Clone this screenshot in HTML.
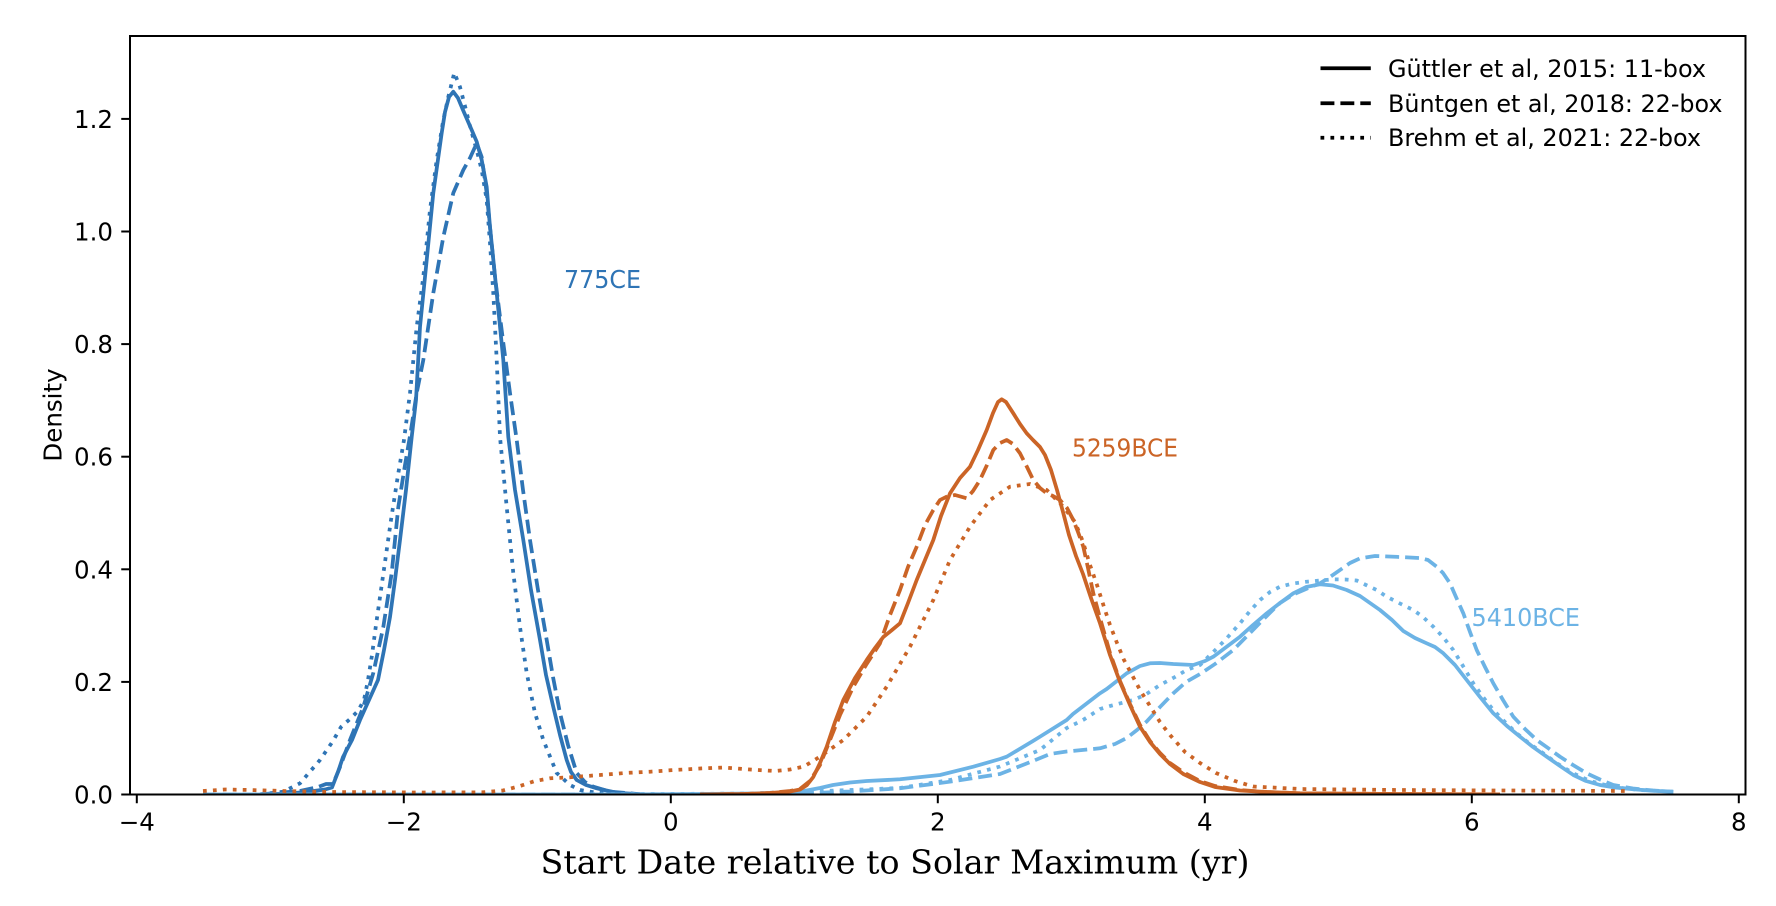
<!DOCTYPE html>
<html>
<head>
<meta charset="utf-8">
<style>
  html,body{margin:0;padding:0;background:#fff;}
  svg{display:block;}
</style>
</head>
<body>
<svg width="1776" height="906" viewBox="0 0 1776 906" xmlns="http://www.w3.org/2000/svg" font-family="'DejaVu Sans','Liberation Sans',sans-serif">
  <rect width="1776" height="906" fill="#fff"/>
  <defs>
    <clipPath id="ax"><rect x="130" y="36" width="1615.5" height="758.5"/></clipPath>
  </defs>

  <g clip-path="url(#ax)" fill="none" stroke-width="3.75" stroke-linejoin="round" stroke-linecap="butt">
    <!-- 775CE dark blue -->
    <g stroke="#2E74B5">
      <polyline points="260,794.4 290,793.5 310,791.5 325,789.5 332,787.5 338,772 343,757 352,740 360,720 369,700 378,680 384,650 390,617 395,580 400,540 406,490 411.7,437 416,400 420,327 426.7,260 433.3,193 441.7,133 445,112 449,97 453.3,91.7 458,98 463,110 471.7,130 476.7,141.7 481.7,160 486.7,187 490,227 496.7,293 503.3,360 508.3,437 515,490 523.3,540 531,590 540,640 546,675 553.3,707 560,735 566.7,760 571,772 576.7,780 586,785 596.7,788.3 616.7,792.7 640,794.2 660,794.4"/>
      <polyline stroke-dasharray="13.9 6" points="260,794.4 300,791 318,787 326,784 333,784 340,767 350,740 363.3,707 373.3,673 383.3,627 391.7,573 398.3,507 405,465 411,430 416.7,393 423.3,360 433.3,293 443.3,237 453.3,193 463.3,170 470,158 476.7,143.3 481.7,157 486.7,193 490,227 495,277 503.3,343 510,393 516.7,440 523,490 530,540 538,590 546.7,640 553,677 560,713 568,745 576.7,773 585,782 593.3,786.7 610,791.7 640,794.2 660,794.4"/>
      <polyline stroke-dasharray="3.75 6.2" points="260,794.4 283.3,791.7 300,783.3 320,760 333,741 341,727 350,719 358,711 364,700 368,680 372,655 376,625 381,590 386,555 391,520 398,475 404,440 410,393 416.7,327 423.3,277 430,210 436.7,160 443.3,120 448.3,97 454.3,72.7 460,87 466,110 471,130 476.7,150 481.7,170 486.7,200 490,243 493.3,293 496.7,360 500,437 506.7,507 513.3,573 520,627 526.7,673 535,713 543.3,740 556.7,773 570,785 580,790 596.7,792.7 620,794.2 660,794.4"/>
    </g>

    <!-- 5410BCE light blue -->
    <g stroke="#6CB3E5">
      <polyline points="203,794.5 600,794.5 700,794 750,793.5 780,792.8 800,791.7 820,788 833,785 850,782.5 866.7,781 900,779.3 940,775 973.3,766.7 1000,759 1006.7,756.7 1033,741 1040,736.7 1066.7,720 1073,714 1100,693.3 1106.7,689 1126.7,673.3 1140,666 1150,663.3 1160,663 1173.3,664 1193.3,665 1205,661 1213.3,656.7 1225,648 1240,636.7 1253,625 1266.7,613.3 1280,603 1293.3,593.3 1306,587 1320,584.3 1333,585.5 1346.7,590 1360,596 1370,603 1380,610 1392,620 1403.3,631 1415,638 1426.7,643.3 1435,647 1443.3,653.3 1455,665 1466.7,680 1480,697 1493.3,713.3 1507,726 1520,736.7 1533,747 1546.7,756.7 1560,766 1573.3,775 1586,781 1600,785 1615,787.5 1633.3,789.3 1653,790.8 1673.3,791.7"/>
      <polyline stroke-dasharray="13.9 6" points="203,794.5 600,794.5 700,794.3 800,793.5 850,791.5 900,788.3 950,781.7 1000,774 1033,761 1050,754 1066.7,751.5 1100,748.3 1115,744 1126.7,738 1137,730 1146.7,721.5 1160,707 1173.3,693.3 1186,682 1200,674 1215,664 1233.3,650 1250,633 1266.7,616 1280,603 1293.3,594.5 1306,589 1320,583.3 1330,577 1340,570 1350,563 1360,558.3 1375,556 1400,557 1420,558 1428,560 1436.7,566.7 1443,573 1450,583.3 1456,597 1463.3,613.3 1470,632 1476.7,650 1485,667 1493.3,683.3 1503,700 1513.3,716.7 1525,729 1536.7,740 1548,748 1560,756.7 1573,765 1586.7,773.3 1600,779.5 1613.3,785 1633,788.5 1653,790.5 1673.3,791.7"/>
      <polyline stroke-dasharray="3.75 6.2" points="203,794.5 600,794.3 750,793.5 850,790 900,788 950,780 1000,766.5 1040,750 1066.7,728 1083,720 1100,709 1110,706 1126.7,701.7 1133,700 1145,695 1160,685 1175,677 1186.7,670 1200,665 1213.3,652 1227,638 1240,623.3 1250,611 1260,600 1270,592 1280,586.7 1293,583.5 1306.7,581.7 1320,580.5 1333.3,579.3 1345,579.5 1356.7,580.5 1366,585 1376.7,590 1386.7,596.7 1400,603.5 1413.3,610 1423,617 1433.3,626.7 1443,637 1453.3,650 1463,666 1473.3,683.3 1483,697 1493.3,710 1505,722 1516.7,733.3 1530,744 1543.3,753.3 1558,764 1573.3,773.3 1590,781 1613,787 1640,790 1673,791.7"/>
    </g>

    <!-- 5259BCE orange -->
    <g stroke="#CB6426">
      <polyline points="700,794.5 745,794 770,793 790,791.5 800,789.5 807,785 813.3,777 820,763 826.7,746.7 835,722 843.3,700 855,678 866.7,660 875,648 883.3,637 892,630 900,623.3 908,603 916.7,580 925,560 933.3,540 941,516 950,493.3 960,478 970,466.7 978,450 986.7,430 993,413 998,402 1001.7,399.3 1006,402 1013.3,413.3 1020,424 1026.7,433.3 1033,440 1040,447 1045,455 1051,470 1057,490 1063,512 1069,535 1076,556 1083,574 1091,598 1100,623.3 1110,655 1120,682 1130,705 1140,726.7 1150,742 1160,754 1170,764 1183.3,774 1200,782 1215,787 1240,790.5 1267,792 1300,793.3 1400,794 1500,794.4"/>
      <polyline stroke-dasharray="13.9 6" points="700,794.5 745,794 770,793 790,791 800,789 810,781 820,765 830,740 840,715 853.3,686.7 866,665 880,643.3 890,615 900,590 908,567 916.7,546.7 925,525 933.3,510 940,500 946.7,496.7 955,495 966.7,498.3 973,491 980,480 987,465 993.3,450 1000,443 1006.7,440 1013,444 1020,453.3 1027,467 1033.3,480 1040,488 1046.7,493.3 1053,496 1060,500 1067,508 1073.3,520 1078,532 1083.3,546.7 1088,568 1093.3,593.3 1100,618 1110,653 1120,681 1130,704 1140,725 1150,741 1160,753 1170,763 1183,772 1200,781 1215,786 1240,790 1267,792 1300,793.3 1400,794 1500,794.4"/>
      <polyline stroke-dasharray="3.75 6.2" points="203,791 225,789.5 250,790 283,791 330,792 420,792.5 483,792.3 503,790.5 520,786 535,781 550,778.3 570,777.3 600,775 625,773 650,771.7 670,770.3 700,768.5 724,767.5 750,769.5 775,771 790,769.5 804,766.5 820,756.7 843.3,740 866.7,716.7 886.7,686.7 910,646.7 933.3,600 950,560 970,526.7 990,500 1010,486.7 1030,484 1046.7,490 1063.3,506.7 1075,522 1083,542 1090,565 1097,585 1104,607 1110,625 1117,643 1124,660 1131,673 1140,690 1150,706 1160,722 1170,735 1185,752 1200,763 1216,773 1235,781 1253,786.5 1300,789 1400,790 1500,790.5 1560,790.7 1627,791"/>
    </g>
  </g>

  <!-- axes frame -->
  <rect x="130" y="36" width="1615.5" height="758.5" fill="none" stroke="#000" stroke-width="2"/>

  <!-- y ticks -->
  <g stroke="#000" stroke-width="2">
    <line x1="121.25" y1="794.5" x2="130" y2="794.5"/>
    <line x1="121.25" y1="681.9" x2="130" y2="681.9"/>
    <line x1="121.25" y1="569.3" x2="130" y2="569.3"/>
    <line x1="121.25" y1="456.7" x2="130" y2="456.7"/>
    <line x1="121.25" y1="344.1" x2="130" y2="344.1"/>
    <line x1="121.25" y1="231.5" x2="130" y2="231.5"/>
    <line x1="121.25" y1="118.9" x2="130" y2="118.9"/>
  </g>
  <g font-size="24.5" fill="#000" text-anchor="end">
    <text x="113" y="803.5">0.0</text>
    <text x="113" y="690.9">0.2</text>
    <text x="113" y="578.3">0.4</text>
    <text x="113" y="465.7">0.6</text>
    <text x="113" y="353.1">0.8</text>
    <text x="113" y="240.5">1.0</text>
    <text x="113" y="127.9">1.2</text>
  </g>

  <!-- x ticks -->
  <g stroke="#000" stroke-width="2">
    <line x1="136.8" y1="794.5" x2="136.8" y2="803.25"/>
    <line x1="403.8" y1="794.5" x2="403.8" y2="803.25"/>
    <line x1="670.8" y1="794.5" x2="670.8" y2="803.25"/>
    <line x1="937.8" y1="794.5" x2="937.8" y2="803.25"/>
    <line x1="1204.8" y1="794.5" x2="1204.8" y2="803.25"/>
    <line x1="1471.8" y1="794.5" x2="1471.8" y2="803.25"/>
    <line x1="1738.8" y1="794.5" x2="1738.8" y2="803.25"/>
  </g>
  <g font-size="24.5" fill="#000" text-anchor="middle">
    <text x="136.8" y="830.5">−4</text>
    <text x="403.8" y="830.5">−2</text>
    <text x="670.8" y="830.5">0</text>
    <text x="937.8" y="830.5">2</text>
    <text x="1204.8" y="830.5">4</text>
    <text x="1471.8" y="830.5">6</text>
    <text x="1738.8" y="830.5">8</text>
  </g>

  <!-- axis labels -->
  <text transform="translate(61.5,415) rotate(-90)" font-size="24.5" text-anchor="middle" fill="#000">Density</text>
  <text x="540.5" y="873.3" font-family="'DejaVu Serif','Liberation Serif',serif" font-size="32.5" textLength="709" lengthAdjust="spacingAndGlyphs" fill="#000">Start Date relative to Solar Maximum (yr)</text>

  <!-- annotations -->
  <text x="564" y="288" font-size="24.5" fill="#2E74B5" textLength="77" lengthAdjust="spacingAndGlyphs">775CE</text>
  <text x="1072" y="456.7" font-size="24.5" fill="#CB6426" textLength="106" lengthAdjust="spacingAndGlyphs">5259BCE</text>
  <text x="1471.5" y="626" font-size="24.5" fill="#6CB3E5" textLength="108.5" lengthAdjust="spacingAndGlyphs">5410BCE</text>

  <!-- legend -->
  <g stroke="#000" stroke-width="3.75" fill="none">
    <line x1="1320.5" y1="68.3" x2="1370.8" y2="68.3"/>
    <line x1="1320.5" y1="103.3" x2="1370.8" y2="103.3" stroke-dasharray="13.9 6"/>
    <line x1="1320.5" y1="137.7" x2="1370.8" y2="137.7" stroke-dasharray="3.75 6.2"/>
  </g>
  <g font-size="24" fill="#000">
    <text x="1388" y="76.8" textLength="318" lengthAdjust="spacingAndGlyphs">Güttler et al, 2015: 11-box</text>
    <text x="1388" y="111.8" textLength="334.5" lengthAdjust="spacingAndGlyphs">Büntgen et al, 2018: 22-box</text>
    <text x="1388" y="146.2" textLength="313" lengthAdjust="spacingAndGlyphs">Brehm et al, 2021: 22-box</text>
  </g>
</svg>
</body>
</html>
